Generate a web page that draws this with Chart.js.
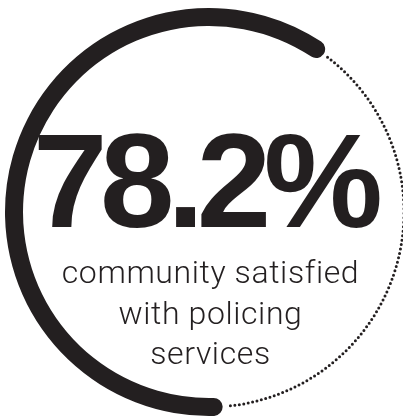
<!DOCTYPE html>
<html>
<head>
<meta charset="utf-8">
<script src="https://cdn.jsdelivr.net/npm/chart.js@4/dist/chart.umd.min.js"></script>
<style>
  html, body { margin: 0; padding: 0; background: #ffffff; width: 403px; height: 419px; overflow: hidden; }
  #wrap { position: relative; width: 403px; height: 419px; overflow: hidden; }
  #ring { position: absolute; left: 0; top: 0; }
  .headline {
    position: absolute; left: 0; top: 113.5px; width: 408.5px;
    text-align: center; white-space: nowrap;
    font-family: "Liberation Sans", Arial, sans-serif; font-weight: 700;
    font-size: 134px; line-height: 134px; letter-spacing: -7.5px; color: #231f20;
  }
  .caption {
    position: absolute; left: 0; top: 252px; width: 421px;
    text-align: center; white-space: nowrap;
    font-family: Roboto, "Liberation Sans", Arial, sans-serif; font-weight: 300;
    font-size: 32px; line-height: 40.5px; letter-spacing: 0.6px; color: #231f20;
  }
</style>
</head>
<body>
<div id="wrap">
  <canvas id="ring" width="420" height="419"></canvas>
  <div class="headline" id="headline"></div>
  <div class="caption" id="caption"></div>
</div>
<script>
// Share of the community satisfied with policing services
const segmentLabels = ['Satisfied', 'Not satisfied'];
const segmentValues = [78.2, 21.8];
const captionLines = ['community satisfied', 'with policing', 'services'];

const INK = '#231f20';
const ARC_START_DEG = 176;   // where the solid band begins (0 = 12 o'clock)
const ARC_SWEEP_DEG = 281.3; // angular span the full 100% maps onto

document.getElementById('headline').textContent = segmentValues[0].toFixed(1) + '%';
const cap = document.getElementById('caption');
captionLines.forEach(line => {
  const d = document.createElement('div');
  d.textContent = line;
  cap.appendChild(d);
});

// Thin dotted track over the part of the ring not covered by the solid band
const dottedTrack = {
  id: 'dottedTrack',
  afterDatasetsDraw(chart) {
    const arc = chart.getDatasetMeta(0).data[0];
    if (!arc) return;
    const p = arc.getProps(['x', 'y', 'startAngle', 'endAngle', 'innerRadius', 'outerRadius'], true);
    const r = (p.innerRadius + p.outerRadius) / 2;
    const pad = 5 / r;
    const ctx = chart.ctx;
    ctx.save();
    ctx.strokeStyle = INK;
    ctx.lineWidth = 3;
    ctx.lineCap = 'round';
    ctx.setLineDash([0, 4.5]);
    ctx.beginPath();
    ctx.arc(p.x, p.y, r, p.endAngle + pad, p.startAngle + Math.PI * 2 - pad);
    ctx.stroke();
    ctx.restore();
  }
};

new Chart(document.getElementById('ring'), {
  type: 'doughnut',
  data: {
    labels: segmentLabels,
    datasets: [{
      data: segmentValues,
      backgroundColor: [INK, 'rgba(0,0,0,0)'],
      borderWidth: 0,
      borderRadius: 9,
      rotation: ARC_START_DEG,
      circumference: ARC_SWEEP_DEG
    }]
  },
  options: {
    responsive: false,
    animation: false,
    cutout: 186,
    layout: { padding: { left: 5, right: 7, top: 8, bottom: 3 } },
    plugins: { legend: { display: false }, tooltip: { enabled: false } }
  },
  plugins: [dottedTrack]
});
</script>
</body>
</html>
